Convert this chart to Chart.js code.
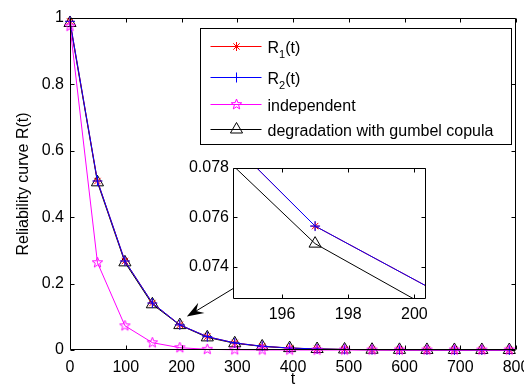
<!DOCTYPE html>
<html>
<head>
<meta charset="utf-8">
<script src="https://cdn.jsdelivr.net/npm/chart.js@4.4.1/dist/chart.umd.min.js"></script>
<style>
  html, body { margin:0; padding:0; background:#fff; overflow:hidden; }
  #wrap { position:relative; width:524px; height:391px; overflow:hidden; }
  #mainChart { position:absolute; left:0; top:0; }
  #insetChart { position:absolute; left:180px; top:150px; z-index:2; }
</style>
</head>
<body>
<div id="wrap">
  <canvas id="mainChart" width="540" height="391"></canvas>
  <canvas id="insetChart" width="266" height="180"></canvas>
</div>
<script>
// sample times (one marker every 49.25)
const tValues = [0, 49.25, 98.5, 147.75, 197, 246.25, 295.5, 344.75, 394, 443.25, 492.5, 541.75, 591, 640.25, 689.5, 738.75, 788];

const r1 = [0.99, 0.509, 0.268, 0.1414, 0.07565, 0.0401, 0.0213, 0.0113, 0.006, 0.0032, 0.0017, 0.0009, 0.0005, 0.0003, 0.0001, 0.0001, 0];
const r2 = [0.99, 0.509, 0.268, 0.1414, 0.07565, 0.0401, 0.0213, 0.0113, 0.006, 0.0032, 0.0017, 0.0009, 0.0005, 0.0003, 0.0001, 0.0001, 0];
const indep = [0.975, 0.263, 0.073, 0.022, 0.007, 0.002, 0.0007, 0.0002, 0.0001, 0, 0, 0, 0, 0, 0, 0, 0];
const gumbel = [0.985, 0.505, 0.264, 0.1377, 0.07494, 0.038, 0.0202, 0.0107, 0.0057, 0.003, 0.0016, 0.0008, 0.0004, 0.0002, 0.0001, 0.0001, 0];

const xTicks = [0, 100, 200, 300, 400, 500, 600, 700, 800];
const yTicks = [0, 0.2, 0.4, 0.6, 0.8, 1];

const insetXTicks = [196, 198, 200];
const insetYTicks = [0.074, 0.076, 0.078];
const insetXRange = [194.52, 200.35];
const insetYRange = [0.0727, 0.078];

const FONT = '"Liberation Sans", Arial, sans-serif';
Chart.defaults.font.family = FONT;
Chart.defaults.font.size = 16;
Chart.defaults.color = '#000';

function toXY(arr){
  return tValues.map((t, i) => ({x: t, y: arr[i]}));
}

function makePentagram(r, color){
  const s = 2 * Math.ceil(r) + 3;
  const c = document.createElement('canvas');
  c.width = s; c.height = s;
  const g = c.getContext('2d');
  g.strokeStyle = color; g.lineWidth = 1;
  g.beginPath();
  for (let i = 0; i < 10; i++) {
    const rad = i % 2 === 0 ? r : r * 0.42;
    const a = -Math.PI / 2 + i * Math.PI / 5;
    const x = s / 2 + rad * Math.cos(a), y = s / 2 + rad * Math.sin(a);
    if (i === 0) g.moveTo(x, y); else g.lineTo(x, y);
  }
  g.closePath();
  g.stroke();
  return c;
}
const starImg = makePentagram(5.5, '#ff00ff');

function makeSets(withIndep, clip){
  const base = {borderWidth:1, pointBorderWidth:1, backgroundColor:'rgba(0,0,0,0)', fill:false, tension:0, clip:clip};
  const sets = [
    Object.assign({}, base, {label:'R_1(t)', data:toXY(r1), borderColor:'#ff0000', pointBorderColor:'#ff0000',
      pointStyle:'star', pointRadius:4.5, order:2}),
    Object.assign({}, base, {label:'R_2(t)', data:toXY(r2), borderColor:'#0000ff', pointBorderColor:'#0000ff',
      pointStyle:'cross', pointRadius:5, order:1}),
    Object.assign({}, base, {label:'independent', data:toXY(indep), borderColor:'#ff00ff', pointBorderColor:'#ff00ff',
      pointStyle:starImg, pointRadius:5.5, order:0}),
    Object.assign({}, base, {label:'degradation with gumbel copula', data:toXY(gumbel), borderColor:'#000000',
      pointBorderColor:'#000000', pointBackgroundColor:'rgba(0,0,0,0)', pointStyle:'triangle', pointRadius:7, order:3})
  ];
  return withIndep ? sets : sets.filter(d => d.label !== 'independent');
}

// box round the plot area with inward ticks, like the original figure
function drawBox(chart, tickLen){
  const ctx = chart.ctx, a = chart.chartArea;
  const L = Math.round(a.left) + 0.5, R = Math.round(a.right) - 0.5;
  const T = Math.round(a.top) + 0.5, B = Math.round(a.bottom) - 0.5;
  ctx.save();
  ctx.strokeStyle = '#000';
  ctx.lineWidth = 1;
  ctx.beginPath();
  ctx.rect(L, T, R - L, B - T);
  chart.scales.x.ticks.forEach(tk => {
    const x = Math.round(chart.scales.x.getPixelForValue(tk.value)) + 0.5;
    ctx.moveTo(x, B); ctx.lineTo(x, B - tickLen);
    ctx.moveTo(x, T); ctx.lineTo(x, T + tickLen);
  });
  chart.scales.y.ticks.forEach(tk => {
    const y = Math.round(chart.scales.y.getPixelForValue(tk.value)) + 0.5;
    ctx.moveTo(L, y); ctx.lineTo(L + tickLen, y);
    ctx.moveTo(R, y); ctx.lineTo(R - tickLen, y);
  });
  ctx.stroke();
  ctx.restore();
}

function drawLabel(ctx, text, x, y){
  const m = text.match(/^(.*)_(\w)(.*)$/);
  ctx.fillStyle = '#000';
  ctx.textBaseline = 'alphabetic';
  ctx.textAlign = 'left';
  ctx.font = '16px ' + FONT;
  if (!m) { ctx.fillText(text, x, y); return; }
  ctx.fillText(m[1], x, y);
  x += ctx.measureText(m[1]).width;
  ctx.font = '11px ' + FONT;
  ctx.fillText(m[2], x, y + 5);
  x += ctx.measureText(m[2]).width;
  ctx.font = '16px ' + FONT;
  ctx.fillText(m[3], x, y);
}

const legendRows = [17, 48.7, 75.3, 100.3];

const boxLegend = {
  id:'boxLegend',
  afterDraw(chart){
    const ctx = chart.ctx, a = chart.chartArea;
    const w = 311, h = 116;
    const left = Math.round(a.right - 5 - w) + 0.5, top = Math.round(a.top + 10) + 0.5;
    ctx.save();
    ctx.fillStyle = '#fff';
    ctx.fillRect(left, top, w, h);
    ctx.strokeStyle = '#000';
    ctx.lineWidth = 1;
    ctx.strokeRect(left, top, w, h);
    chart.data.datasets.forEach((ds, i) => {
      const y = Math.round(top + legendRows[i]) + 0.5;
      ctx.strokeStyle = ds.borderColor;
      ctx.lineWidth = 1;
      ctx.beginPath();
      ctx.moveTo(left + 10, y); ctx.lineTo(left + 61, y);
      ctx.stroke();
      ctx.fillStyle = ds.pointBackgroundColor || 'rgba(0,0,0,0)';
      ctx.strokeStyle = ds.pointBorderColor;
      Chart.helpers.drawPoint(ctx, {pointStyle:ds.pointStyle, radius:ds.pointRadius, borderWidth:1, rotation:0}, left + 36, y);
      drawLabel(ctx, ds.label, left + 67, y + 6);
    });
    ctx.restore();
  }
};

const axesBox = {
  id:'axesBox',
  beforeDatasetsDraw(chart, args, opts){
    if (opts.fill) {
      const a = chart.chartArea;
      chart.ctx.save();
      chart.ctx.fillStyle = '#fff';
      chart.ctx.fillRect(a.left, a.top, a.right - a.left, a.bottom - a.top);
      chart.ctx.restore();
    }
  },
  afterDatasetsDraw(chart, args, opts){
    drawBox(chart, opts.tickLen || 4);
  }
};

// inset (zoom around t = 197)
const insetCanvas = document.getElementById('insetChart');
const insetChart = new Chart(insetCanvas, {
  type:'line',
  data:{datasets:makeSets(false, undefined)},
  options:{
    responsive:false, animation:false, devicePixelRatio:1,
    layout:{padding:{top:18, right:20, left:0, bottom:0}},
    plugins:{legend:{display:false}, tooltip:{enabled:false}, axesBox:{tickLen:4, fill:true}},
    scales:{
      x:{type:'linear', min:insetXRange[0], max:insetXRange[1],
        afterBuildTicks: s => { s.ticks = insetXTicks.map(v => ({value:v})); },
        afterFit: s => { s.height = 31; },
        grid:{display:false, drawTicks:false}, border:{display:false},
        ticks:{padding:6, maxRotation:0, autoSkip:false, callback: v => String(v)}},
      y:{type:'linear', min:insetYRange[0], max:insetYRange[1],
        afterBuildTicks: s => { s.ticks = insetYTicks.map(v => ({value:v})); },
        afterFit: s => { s.width = 53; },
        grid:{display:false, drawTicks:false}, border:{display:false},
        ticks:{padding:4, autoSkip:false, callback: v => v.toFixed(3)}}
    }
  },
  plugins:[axesBox]
});

const arrowPlugin = {
  id:'zoomArrow',
  afterDraw(chart){
    const idx = tValues.findIndex(t => t >= insetXRange[0] && t <= insetXRange[1]);
    const p = chart.getDatasetMeta(3).data[idx];
    const ia = insetChart.chartArea;
    const tx = ia.left + insetCanvas.offsetLeft + 1, ty = ia.bottom + insetCanvas.offsetTop - 11;
    // tip sits just above-right of the marker
    const tipX = p.x + 7, tipY = p.y - 8.5;
    const dx = tx - tipX, dy = ty - tipY, len = Math.hypot(dx, dy);
    const ux = dx / len, uy = dy / len, nx = -uy, ny = ux;
    const ctx = chart.ctx;
    ctx.save();
    ctx.strokeStyle = '#000'; ctx.fillStyle = '#000'; ctx.lineWidth = 1;
    ctx.beginPath();
    ctx.moveTo(tx, ty); ctx.lineTo(tipX + ux * 10, tipY + uy * 10);
    ctx.stroke();
    ctx.beginPath();
    ctx.moveTo(tipX, tipY);
    ctx.lineTo(tipX + ux * 17 + nx * 6, tipY + uy * 17 + ny * 6);
    ctx.lineTo(tipX + ux * 11, tipY + uy * 11);
    ctx.lineTo(tipX + ux * 17 - nx * 6, tipY + uy * 17 - ny * 6);
    ctx.closePath();
    ctx.fill();
    ctx.restore();
  }
};

new Chart(document.getElementById('mainChart'), {
  type:'line',
  data:{datasets:makeSets(true, false)},
  options:{
    responsive:false, animation:false, devicePixelRatio:1,
    layout:{padding:{top:18, right:24, left:0, bottom:0}},
    plugins:{legend:{display:false}, tooltip:{enabled:false}, axesBox:{tickLen:4}},
    scales:{
      x:{type:'linear', min:0, max:800,
        afterBuildTicks: s => { s.ticks = xTicks.map(v => ({value:v})); },
        afterFit: s => { s.height = 41; },
        grid:{display:false, drawTicks:false}, border:{display:false},
        ticks:{padding:8, maxRotation:0, autoSkip:false, callback: v => String(v)},
        title:{display:true, text:'t', padding:{top:0, bottom:2}}},
      y:{type:'linear', min:0, max:1,
        afterBuildTicks: s => { s.ticks = yTicks.map(v => ({value:v})); },
        afterFit: s => { s.width = 70; },
        grid:{display:false, drawTicks:false}, border:{display:false},
        ticks:{padding:6, autoSkip:false, callback: v => String(+v.toFixed(1))},
        title:{display:true, text:'Reliability curve R(t)', padding:{top:14, bottom:0}}}
    }
  },
  plugins:[axesBox, boxLegend, arrowPlugin]
});
</script>
</body>
</html>
